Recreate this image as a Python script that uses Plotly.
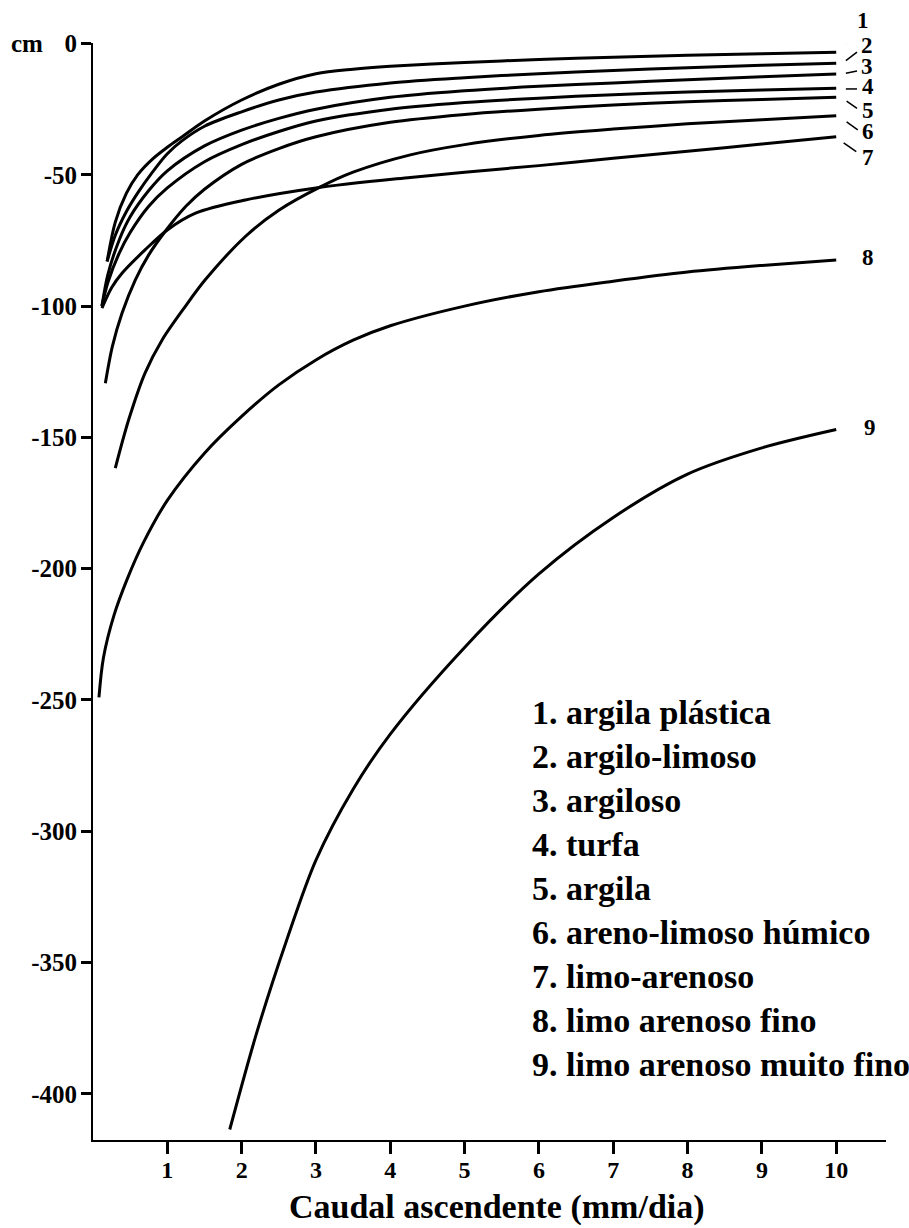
import plotly.graph_objects as go

# ---------------- data ----------------
names = [
    "1. argila plástica",
    "2. argilo-limoso",
    "3. argiloso",
    "4. turfa",
    "5. argila",
    "6. areno-limoso húmico",
    "7. limo-arenoso",
    "8. limo arenoso fino",
    "9. limo arenoso muito fino",
]

x1 = [0.19, 0.3, 0.45, 0.6, 0.8, 1.0, 1.2, 1.5, 2.0, 2.5, 3.0, 3.5, 4.0, 5.0, 6.0, 7.0, 8.0, 9.0, 10.0]
y1 = [-83, -68, -57, -50, -44, -39.5, -35.5, -29.5, -21.5, -15.5, -11.5, -9.8, -8.7, -7.2, -6.1, -5.2, -4.5, -3.9, -3.3]

x2 = [0.19, 0.3, 0.45, 0.6, 0.8, 1.0, 1.2, 1.5, 2.0, 2.5, 3.0, 4.0, 5.0, 6.0, 7.0, 8.0, 9.0, 10.0]
y2 = [-83, -73, -64, -57, -49, -42, -37, -31.5, -26, -21.5, -18.5, -15, -13, -11.5, -10.3, -9.2, -8.3, -7.5]

x3 = [0.12, 0.2, 0.35, 0.5, 0.75, 1.0, 1.5, 2.0, 2.5, 3.0, 4.0, 5.0, 6.0, 7.0, 8.0, 9.0, 10.0]
y3 = [-100, -88, -75, -66, -56, -48.5, -39, -33, -28.5, -25, -20.5, -18, -16.3, -15, -13.8, -12.7, -11.6]

x4 = [0.12, 0.2, 0.35, 0.5, 0.75, 1.0, 1.5, 2.0, 2.5, 3.0, 4.0, 5.0, 6.0, 7.0, 8.0, 9.0, 10.0]
y4 = [-100, -91, -80, -72, -62, -55, -45, -38.5, -33.5, -29.5, -25, -22.5, -20.8, -19.5, -18.5, -17.7, -17]

x5 = [0.166, 0.26, 0.39, 0.57, 0.75, 0.97, 1.25, 1.5, 2.0, 2.5, 3.0, 4.0, 5.0, 6.0, 7.0, 8.0, 9.0, 10.0]
y5 = [-129.4, -115.4, -102.7, -90, -80.5, -71.6, -62, -55.5, -46, -40, -35.5, -30, -27, -25, -23.4, -22.2, -21.3, -20.5]

x6 = [0.30, 0.48, 0.70, 0.93, 1.24, 1.51, 2.05, 2.5, 3.06, 3.5, 4.27, 5, 6, 7, 8, 9, 10]
y6 = [-161.7, -143.3, -125.5, -112.9, -100.2, -90, -73.5, -63.5, -54.6, -49, -42.4, -38.5, -35, -32.6, -30.6, -29, -27.5]

x7 = [0.12, 0.25, 0.39, 0.7, 1.0, 1.38, 2.05, 3.0, 4.27, 5, 6, 7, 8, 9, 10]
y7 = [-100.8, -93, -87.5, -78.6, -71, -64.6, -59.6, -55, -51, -49, -46.5, -43.7, -41, -38.3, -35.5]

x8 = [0.08, 0.14, 0.28, 0.46, 0.68, 1.0, 1.5, 2.0, 2.5, 3.0, 3.5, 4.0, 5.0, 6.0, 7.0, 8.0, 9.0, 10.0]
y8 = [-249, -234, -218, -204, -190, -174, -156, -142, -130, -120.5, -113, -107.5, -100, -94.5, -90.5, -87, -84.5, -82.4]

x9 = [1.84, 2.2, 2.6, 3.0, 3.5, 4.0, 5.0, 6.0, 7.0, 8.0, 9.0, 10.0]
y9 = [-413.6, -377, -342, -311, -284, -263, -230, -202, -180.5, -164, -154, -147]

series_x = [x1, x2, x3, x4, x5, x6, x7, x8, x9]
series_y = [y1, y2, y3, y4, y5, y6, y7, y8, y9]

x_ticks = [1, 2, 3, 4, 5, 6, 7, 8, 9, 10]
y_ticks = [0, -50, -100, -150, -200, -250, -300, -350, -400]

# curve number labels at the right end (x in data units, y in px from top)
num_labels = ["1", "2", "3", "4", "5", "6", "7", "8", "9"]
num_label_x = [10.36, 10.42, 10.42, 10.43, 10.43, 10.43, 10.43, 10.43, 10.46]
num_label_py = [20, 45, 67, 87, 110, 132, 157, 257, 427]

# short leader strokes next to labels 1..7 : (x0, y0, x1, y1) in data units
leaders = [
    (10.13, 0.3, 10.26, 4.1),
    (10.13, -6.5, 10.28, -3.3),
    (10.13, -11.3, 10.28, -10.5),
    (10.13, -17.3, 10.28, -17.3),
    (10.14, -21.9, 10.28, -24.7),
    (10.14, -29.8, 10.29, -32.9),
    (10.10, -37.8, 10.27, -41.2),
]

FONT = "Liberation Serif, Times New Roman, serif"
PLOT_TOP, PLOT_H = 43, 1097


def paper_y(py):
    return 1 - (py - PLOT_TOP) / PLOT_H


fig = go.Figure()
for xs, ys, nm in zip(series_x, series_y, names):
    fig.add_trace(go.Scatter(
        x=xs, y=ys, mode="lines", name=nm,
        line=dict(color="black", width=3, shape="spline", smoothing=0.9),
        showlegend=False, hoverinfo="skip",
    ))

for t, lx, py in zip(num_labels, num_label_x, num_label_py):
    fig.add_annotation(x=lx, xref="x", y=paper_y(py), yref="paper", text=t, showarrow=False,
                       xanchor="center", yanchor="middle",
                       font=dict(family=FONT, size=23, color="black", weight="bold"))

for (a, b, c, d) in leaders:
    fig.add_shape(type="line", x0=a, y0=b, x1=c, y1=d, xref="x", yref="y",
                  line=dict(color="black", width=1.5))

# soil-type key (text block, lower right)
key_top_px = 712
key_step_px = 44
for i, nm in enumerate(names):
    fig.add_annotation(x=5.88, xref="x", y=paper_y(key_top_px + i * key_step_px), yref="paper",
                       text=nm, showarrow=False, xanchor="left", yanchor="middle",
                       font=dict(family=FONT, size=34, color="black", weight="bold"))

# "cm" unit label next to the 0 tick
fig.add_annotation(x=-0.083, xref="paper", y=0, yref="y", text="cm", showarrow=False,
                   xanchor="center", yanchor="middle",
                   font=dict(family=FONT, size=25, color="black", weight="bold"))

# x-axis title
fig.add_annotation(x=0.51, xref="paper", y=paper_y(1207), yref="paper",
                   text="Caudal ascendente (mm/dia)", showarrow=False,
                   xanchor="center", yanchor="middle",
                   font=dict(family=FONT, size=34, color="black", weight="bold"))

fig.update_layout(
    width=909, height=1228,
    margin=dict(l=93, r=23, t=43, b=88, autoexpand=False),
    paper_bgcolor="white", plot_bgcolor="white",
    showlegend=False,
)
fig.update_xaxes(
    range=[0, 10.67], showgrid=False, zeroline=False, automargin=False,
    showline=True, linecolor="black", linewidth=2,
    ticks="outside", ticklen=12, tickwidth=3, tickcolor="black",
    tickvals=x_ticks, ticktext=[str(v) for v in x_ticks],
    tickfont=dict(family=FONT, size=24, color="black", weight="bold"),
    ticklabelstandoff=-5,
)
fig.update_yaxes(
    range=[-417.6, 0.2], showgrid=False, zeroline=False, automargin=False,
    showline=True, linecolor="black", linewidth=2,
    ticks="outside", ticklen=10, tickwidth=2.5, tickcolor="black",
    tickvals=y_ticks, ticktext=[str(v) for v in y_ticks],
    tickfont=dict(family=FONT, size=25, color="black", weight="bold"),
    ticklabelstandoff=-1,
)

fig.write_html("out.html")
